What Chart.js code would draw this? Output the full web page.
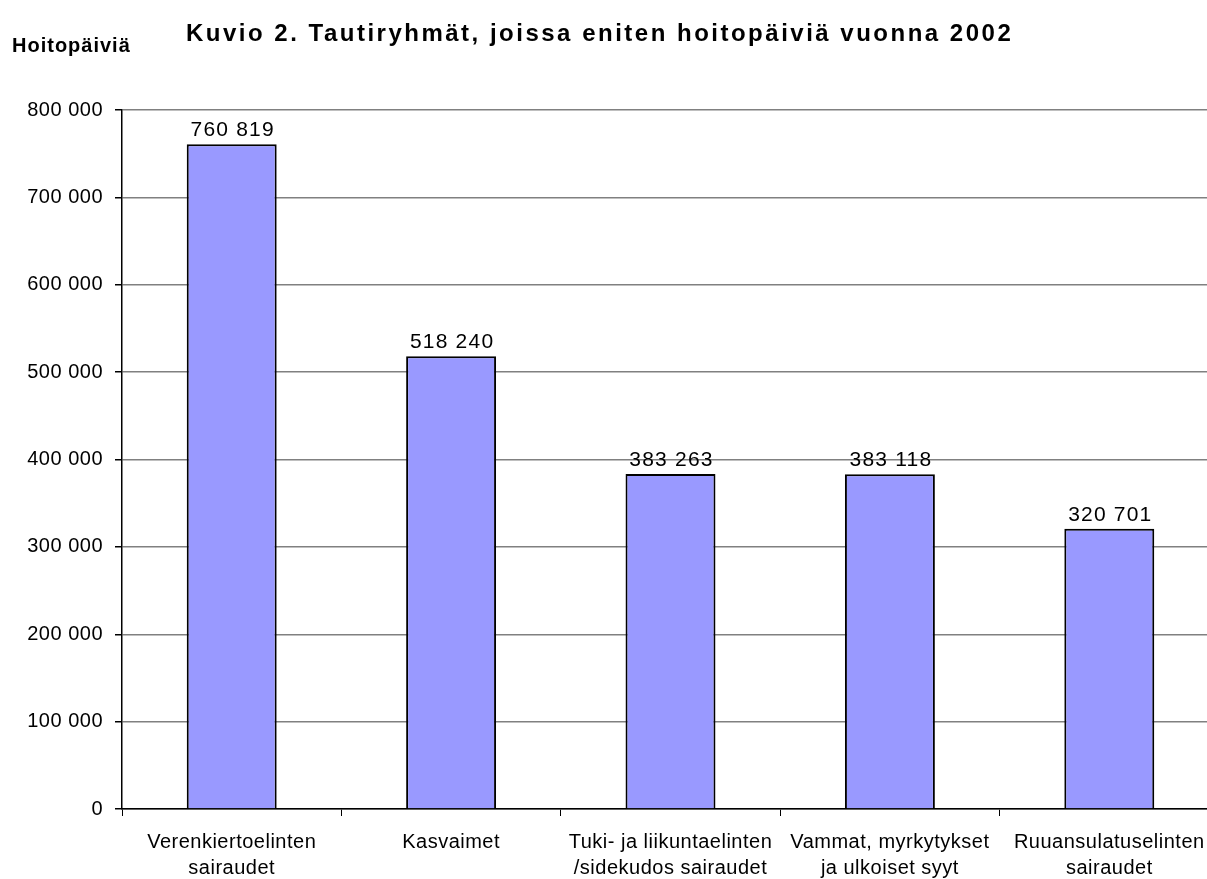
<!DOCTYPE html>
<html>
<head>
<meta charset="utf-8">
<script src="https://cdn.jsdelivr.net/npm/chart.js@4/dist/chart.umd.min.js"></script>
<style>
  html, body { margin: 0; padding: 0; background: #fff; overflow: hidden; }
  #wrap { width: 1240px; height: 879px; }
</style>
</head>
<body>
<div id="wrap"><canvas id="barChart" width="1240" height="879"></canvas></div>
<script>
const categories = [
  ["Verenkiertoelinten", "sairaudet"],
  ["Kasvaimet"],
  ["Tuki- ja liikuntaelinten", "/sidekudos sairaudet"],
  ["Vammat, myrkytykset", "ja ulkoiset syyt"],
  ["Ruuansulatuselinten", "sairaudet"]
];
const hoitopaivat = [760819, 518240, 383263, 383118, 320701];
const chartTitle = "Kuvio 2. Tautiryhmät, joissa eniten hoitopäiviä vuonna 2002";
const axisTitle = "Hoitopäiviä";

const fmt = (v) => String(Math.round(v)).replace(/\B(?=(\d{3})+(?!\d))/g, " ");
const FONT = "'Liberation Sans', Arial, sans-serif";

// spacing like the original Excel rendering
const spacing = {
  id: "spacing",
  beforeDraw(chart) { chart.ctx.letterSpacing = "0.5px"; },
  beforeUpdate(chart) { chart.ctx.letterSpacing = "0.5px"; }
};

const labelsAndTitles = {
  id: "labelsAndTitles",
  afterDatasetsDraw(chart) {
    const ctx = chart.ctx;
    ctx.save();
    ctx.fillStyle = "#000";
    ctx.letterSpacing = "1.2px";
    ctx.font = "21px " + FONT;
    ctx.textAlign = "center";
    ctx.textBaseline = "alphabetic";
    chart.getDatasetMeta(0).data.forEach((bar, i) => {
      ctx.fillText(fmt(hoitopaivat[i]), bar.x + 1, bar.y - 8);
    });
    ctx.textAlign = "left";
    ctx.letterSpacing = "2.5px";
    ctx.font = "bold 24px " + FONT;
    ctx.fillText(chartTitle, 186, 41);
    ctx.letterSpacing = "1px";
    ctx.font = "bold 20px " + FONT;
    ctx.fillText(axisTitle, 12, 52);
    ctx.restore();
  }
};

const data = {
  labels: categories,
  datasets: [
    {
      label: axisTitle,
      data: hoitopaivat,
      backgroundColor: "#9999FF",
      borderColor: "#000000",
      borderWidth: 2,
      barPercentage: 0.41,
      categoryPercentage: 1.0
    }
  ]
};

const config = {
  type: "bar",
  data: data,
  plugins: [spacing, labelsAndTitles],
  options: {
    responsive: false,
    animation: false,
    devicePixelRatio: 1,
    layout: { padding: { top: 110, right: 21, left: 0, bottom: 0 } },
    plugins: {
      legend: { display: false },
      title: { display: false },
      tooltip: { enabled: false }
    },
    scales: {
      x: {
        offset: true,
        grid: {
          offset: true,
          drawOnChartArea: false,
          drawTicks: true,
          tickLength: 7,
          tickColor: "#000"
        },
        border: { color: "#000", width: 1.5 },
        ticks: {
          color: "#000",
          font: { family: FONT, size: 20, lineHeight: 1.3 },
          padding: 13,
          maxRotation: 0,
          autoSkip: false
        },
        afterFit(scale) { scale.height = 70; }
      },
      y: {
        min: 0,
        max: 800000,
        grid: {
          color: "#808080",
          lineWidth: 1.5,
          tickLength: 7,
          tickColor: "#000"
        },
        border: { color: "#000", width: 1.5 },
        ticks: {
          stepSize: 100000,
          color: "#000",
          font: { family: FONT, size: 20 },
          padding: 12,
          callback: (v) => fmt(v)
        },
        afterFit(scale) { scale.width = 122; }
      }
    }
  }
};

const myChart = new Chart(document.getElementById("barChart"), config);
</script>
</body>
</html>
